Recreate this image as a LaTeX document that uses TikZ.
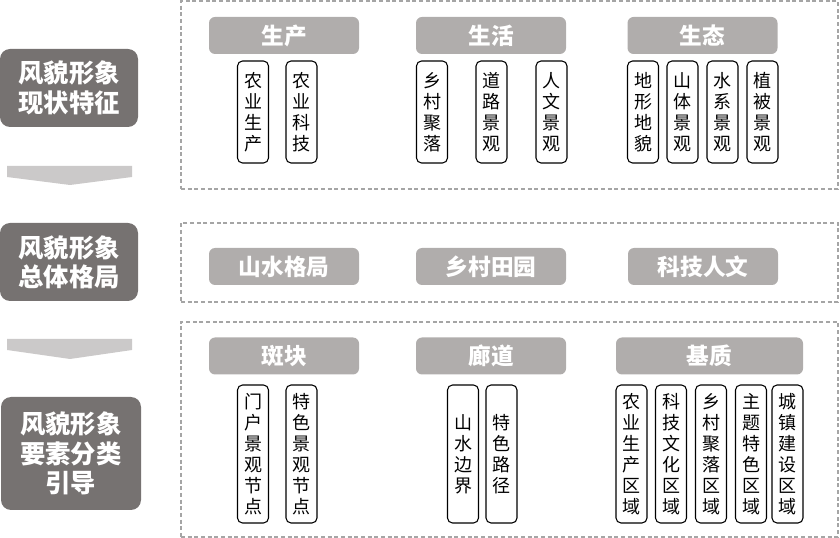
\documentclass[tikz,border=0pt]{standalone}
\usepackage{fontspec}
\newfontfamily\cjk{Noto Sans CJK SC}
\usepackage{tikz}
\usetikzlibrary{positioning,calc}
\usepackage{xcolor}
\definecolor{stagegray}{HTML}{767271}
\definecolor{headgray}{HTML}{B0ADAC}
\definecolor{chevgray}{HTML}{CBC9C9}
\definecolor{framegray}{HTML}{A5A5A5}

\begin{document}
\begin{tikzpicture}[
  x=0.75pt,y=-0.75pt,
  stage/.style={fill=stagegray,rounded corners=7.5pt,inner sep=0pt,align=center,text=white,minimum width=103.5pt,font=\cjk\bfseries\fontsize{19}{22}\selectfont},
  frame/.style={draw=framegray,line width=0.9pt,dash pattern=on 3pt off 2pt,minimum width=492.75pt,inner sep=0pt},
  head/.style={fill=headgray,rounded corners=4.5pt,inner sep=0pt,text=white,minimum width=112.5pt,minimum height=27.75pt,font=\cjk\bfseries\fontsize{17}{20}\selectfont},
  item/.style={draw=black,line width=0.8pt,rounded corners=3.75pt,inner sep=0pt,align=center,minimum width=23.25pt,font=\cjk\fontsize{13.5}{15.75}\selectfont},
  chev/.style={fill=chevgray}
]
\useasboundingbox (0,0) rectangle (840,538);

% LEFT COLUMN: the three stages
\node[stage,minimum height=58.5pt] (st1) at (69,88) {风貌形象\\现状特征};
\node[stage,minimum height=58.5pt] (st2) at (69,262) {风貌形象\\总体格局};
\node[stage,minimum height=84.75pt,minimum width=105pt] (st3) at (71,453.5) {风貌形象\\要素分类\\引导};

\fill[chev] (7,166) -- (132,166) -- (132,177) -- (70,185) -- (7,177) -- cycle;
\fill[chev] (7,339) -- (132,339) -- (132,350) -- (70,359) -- (7,350) -- cycle;

% DASHED FRAMES
\node[frame,minimum height=141pt] (fr1) at (509.5,95) {};
\node[frame,minimum height=59.25pt] (fr2) at (509.5,262.5) {};
\node[frame,minimum height=161.25pt] (fr3) at (509.5,429.5) {};

% TOP FRAME: present features
\node[head] (prod) at (284,35.5) {生产};
\node[head] (life) at (491,35.5) {生活};
\node[head] (eco) at (702.5,35.5) {生态};

\node[item,minimum height=76.5pt] (p1) at (253,112) {农\\业\\生\\产};
\node[item,minimum height=76.5pt] (p2) at (301.5,112) {农\\业\\科\\技};
\node[item,minimum height=76.5pt] (l1) at (432,112) {乡\\村\\聚\\落};
\node[item,minimum height=76.5pt] (l2) at (491.5,112) {道\\路\\景\\观};
\node[item,minimum height=76.5pt] (l3) at (551.5,112) {人\\文\\景\\观};
\node[item,minimum height=76.5pt] (e1) at (643,112) {地\\形\\地\\貌};
\node[item,minimum height=76.5pt] (e2) at (682.5,112) {山\\体\\景\\观};
\node[item,minimum height=76.5pt] (e3) at (722.5,112) {水\\系\\景\\观};
\node[item,minimum height=76.5pt] (e4) at (762.5,112) {植\\被\\景\\观};

% MIDDLE FRAME: overall pattern
\node[head] (mount) at (284,266.5) {山水格局};
\node[head] (rural) at (491,266.5) {乡村田园};
\node[head] (tech) at (703,266.5) {科技人文};

% BOTTOM FRAME: element guidance
\node[head] (patch) at (284,356) {斑块};
\node[head] (corr) at (491,356) {廊道};
\node[head,minimum width=140.25pt] (matrix) at (709.5,356) {基质};

\node[item,minimum height=103.5pt] (a1) at (253,454) {门\\户\\景\\观\\节\\点};
\node[item,minimum height=103.5pt] (a2) at (301.5,454) {特\\色\\景\\观\\节\\点};
\node[item,minimum height=103.5pt] (b1) at (463,454) {山\\水\\边\\界};
\node[item,minimum height=103.5pt] (b2) at (501.5,454) {特\\色\\路\\径};
\node[item,minimum height=103.5pt] (c1) at (631.5,454) {农\\业\\生\\产\\区\\域};
\node[item,minimum height=103.5pt] (c2) at (671,454) {科\\技\\文\\化\\区\\域};
\node[item,minimum height=103.5pt] (c3) at (711,454) {乡\\村\\聚\\落\\区\\域};
\node[item,minimum height=103.5pt] (c4) at (751,454) {主\\题\\特\\色\\区\\域};
\node[item,minimum height=103.5pt] (c5) at (787.5,454) {城\\镇\\建\\设\\区\\域};

\end{tikzpicture}
\end{document}
